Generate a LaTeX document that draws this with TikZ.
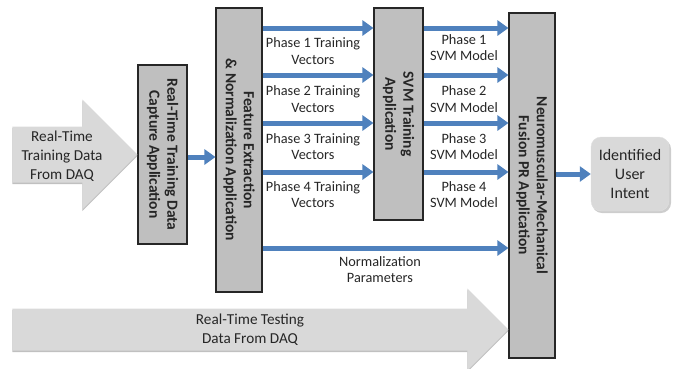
\documentclass[tikz,border=0pt]{standalone}
\usepackage{fontspec}
\setmainfont{Carlito}
\usetikzlibrary{arrows.meta,calc}
\definecolor{arrowblue}{RGB}{79,129,189}
\definecolor{boxgray}{RGB}{191,191,191}
\definecolor{lightgrayA}{RGB}{217,217,217}
\definecolor{shadowgray}{RGB}{192,192,192}
\definecolor{txt}{RGB}{38,38,38}
\begin{document}
\begin{tikzpicture}[x=1pt,y=-1pt,
  appbox/.style={draw=black!85,line width=1.1pt,fill=boxgray,inner sep=0pt},
  apptext/.style={rotate=-90,align=center,text=txt,font=\bfseries\fontsize{15.5}{18}\selectfont},
  lbl/.style={align=center,text=txt,font=\fontsize{14.3}{16.5}\selectfont},
  bigtext/.style={align=center,text=txt,font=\fontsize{15.2}{19}\selectfont},
  bluearrow/.style={draw=arrowblue,line width=5pt,-{Triangle[length=11pt,width=15pt]}},
  grayarrow/.style={fill=lightgrayA},
  grayshadow/.style={fill=shadowgray}
]
\useasboundingbox (0,0) rectangle (684,368);

% boxes
\node[appbox,minimum width=49pt,minimum height=179pt] (box1) at (162.5,154.5) {};
\node[apptext] (box1t) at (box1.center) {Real-Time Training Data\\Capture Application};
\node[appbox,minimum width=46pt,minimum height=284pt] (box2) at (239,150) {};
\node[apptext] (box2t) at (box2.center) {Feature Extraction\\\& Normalization Application};
\node[appbox,minimum width=49pt,minimum height=212pt] (svm) at (398.5,114) {};
\node[apptext] (svmt) at (svm.center) {SVM Training\\Application};
\node[appbox,minimum width=46pt,minimum height=345pt] (neuro) at (532,185.5) {};
\node[apptext] (neurot) at (neuro.center) {Neuromuscular-Mechanical\\Fusion PR Application};

% identified user intent
\fill[shadowgray!80,rounded corners=10pt] (592,139) rectangle (671,213);
\node[fill=lightgrayA,draw=black!12,rounded corners=10pt,minimum width=78pt,minimum height=74pt,
      align=center,text=txt,font=\fontsize{16}{19}\selectfont] (ident) at (630,174)
      {Identified\\User\\Intent};

% big gray arrows
\coordinate (ttip) at (box1.west);
\fill[grayshadow] ($(ttip)+(-125,-28)+(0,1.5)$) -- ($(ttip)+(-55,-28)+(0,1.5)$) -- ($(ttip)+(-55,-55)+(0,1.5)$)
  -- ($(ttip)+(0,1.5)$) -- ($(ttip)+(-55,55)+(0,1.5)$) -- ($(ttip)+(-55,28)+(0,1.5)$) -- ($(ttip)+(-125,28)+(0,1.5)$) -- cycle;
\fill[grayarrow] ($(ttip)+(-125,-28)$) -- ($(ttip)+(-55,-28)$) -- ($(ttip)+(-55,-55)$)
  -- (ttip) -- ($(ttip)+(-55,55)$) -- ($(ttip)+(-55,28)$) -- ($(ttip)+(-125,28)$) -- cycle;
\node[bigtext] (traindata) at (62,156) {Real-Time\\Training Data\\From DAQ};

\coordinate (stip) at (neuro.west |- 0,329.5);
\fill[grayshadow] ($(stip)+(-496,-21)+(0,1.5)$) -- ($(stip)+(-41,-21)+(0,1.5)$) -- ($(stip)+(-41,-41)+(0,1.5)$)
  -- ($(stip)+(0,1.5)$) -- ($(stip)+(-41,41)+(0,1.5)$) -- ($(stip)+(-41,21)+(0,1.5)$) -- ($(stip)+(-496,21)+(0,1.5)$) -- cycle;
\fill[grayarrow] ($(stip)+(-496,-21)$) -- ($(stip)+(-41,-21)$) -- ($(stip)+(-41,-41)$)
  -- (stip) -- ($(stip)+(-41,41)$) -- ($(stip)+(-41,21)$) -- ($(stip)+(-496,21)$) -- cycle;
\node[bigtext] (testdata) at (250,330) {Real-Time Testing\\Data From DAQ};

% blue arrows
\coordinate (r0) at (0,157);
\draw[bluearrow] (box1.east |- r0) -- (box2.west |- r0);
\foreach \y [count=\i] in {28,75,123,172}{
  \coordinate (row\i) at (0,\y);
  \draw[bluearrow] (box2.east |- row\i) -- (svm.west |- row\i);
  \draw[bluearrow] (svm.east |- row\i) -- (neuro.west |- row\i);
}
\coordinate (rn) at (0,248);
\draw[bluearrow] (box2.east |- rn) -- (neuro.west |- rn);
\draw[bluearrow] (neuro.east |- ident.west) -- (ident.west);

% labels
\node[lbl] (tv1) at (313,51) {Phase 1 Training\\Vectors};
\node[lbl] (tv2) at (313,99) {Phase 2 Training\\Vectors};
\node[lbl] (tv3) at (313,146.5) {Phase 3 Training\\Vectors};
\node[lbl] (tv4) at (313,194.5) {Phase 4 Training\\Vectors};
\node[lbl] (sm1) at (464,47.5) {Phase 1\\SVM Model};
\node[lbl] (sm2) at (464,99) {Phase 2\\SVM Model};
\node[lbl] (sm3) at (464,146.5) {Phase 3\\SVM Model};
\node[lbl] (sm4) at (464,194.5) {Phase 4\\SVM Model};
\node[lbl] (norm) at (380,269.5) {Normalization\\Parameters};
\end{tikzpicture}
\end{document}
